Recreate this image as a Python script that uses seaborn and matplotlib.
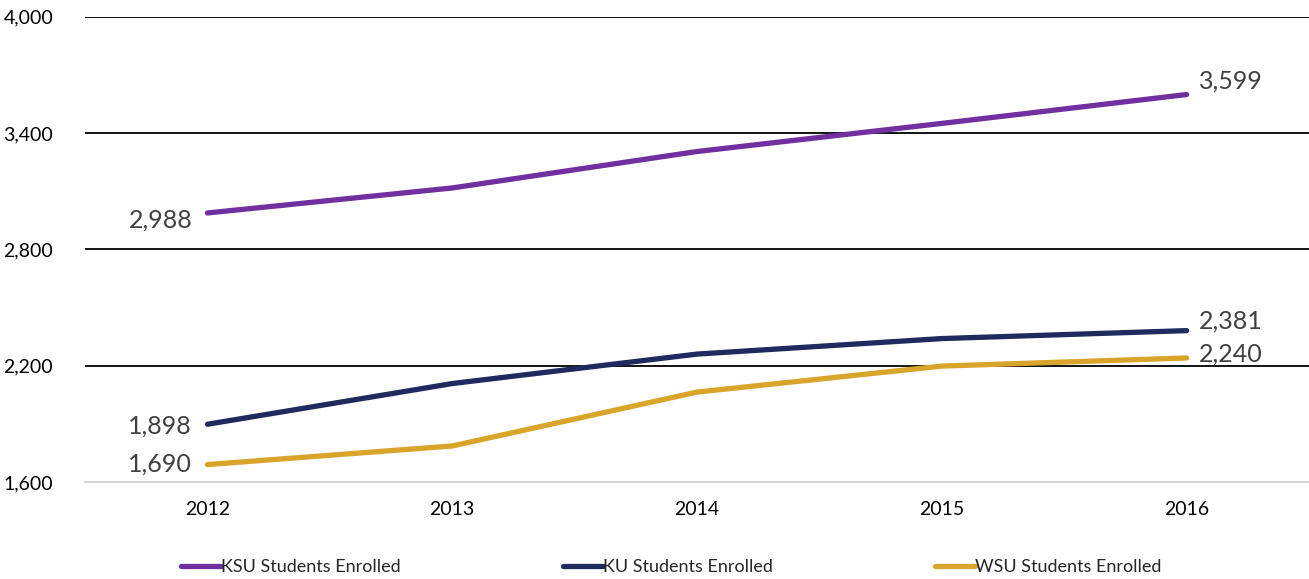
import matplotlib
matplotlib.use("Agg")
import matplotlib.pyplot as plt
import seaborn as sns
import pandas as pd
from matplotlib.ticker import FuncFormatter

years = ["2012", "2013", "2014", "2015", "2016"]
ksu = [2988, 3117, 3305, 3450, 3599]
ku = [1898, 2108, 2260, 2340, 2381]
wsu = [1690, 1786, 2064, 2198, 2240]
series_names = ["KSU Students Enrolled", "KU Students Enrolled", "WSU Students Enrolled"]
colors = ["#7030A0", "#1F2A5E", "#D9A42A"]

rows = []
for name, vals in zip(series_names, [ksu, ku, wsu]):
    for i, (y, v) in enumerate(zip(years, vals)):
        rows.append({"idx": i, "year": y, "value": v, "series": name})
df = pd.DataFrame(rows)

sns.set_theme(style="white")
plt.rcParams['font.family'] = ['Lato', 'DejaVu Sans']

fig = plt.figure(figsize=(13.09, 5.79), dpi=100)
ax = fig.add_axes([0.065, 0.1675, 0.935, 0.8035])

sns.lineplot(data=df, x="idx", y="value", hue="series", palette=colors,
             linewidth=3.8, ax=ax, legend=True, solid_capstyle="round")

ax.set_xlim(-0.5, 4.5)
ax.set_ylim(1600, 4000)
ax.set_yticks([1600, 2200, 2800, 3400, 4000])
ax.yaxis.set_major_formatter(FuncFormatter(lambda v, p: f"{int(v):,}"))
ax.set_xticks(range(len(years)))
ax.set_xticklabels(years)
ax.set_xlabel("")
ax.set_ylabel("")
ax.tick_params(axis="both", length=0, labelsize=14, colors="black")
ax.tick_params(axis="x", pad=14)
ax.tick_params(axis="y", pad=23)

for y in [2200, 2800, 3400, 4000]:
    ax.axhline(y, color="black", linewidth=1.3, zorder=0)
for s in ["top", "right", "left"]:
    ax.spines[s].set_visible(False)
ax.spines["bottom"].set_color("#D0D0D0")
ax.spines["bottom"].set_linewidth(1.3)

label_color = "#404040"
first_offsets = [(-11, -5), (-11, -1), (-11, 0)]
last_offsets = [(9, 10), (9, 7), (9, 3)]
for vals, fo, lo in zip([ksu, ku, wsu], first_offsets, last_offsets):
    ax.annotate(f"{vals[0]:,}", (0, vals[0]), xytext=fo, textcoords="offset points",
                ha="right", va="center", fontsize=18, color=label_color)
    ax.annotate(f"{vals[-1]:,}", (4, vals[-1]), xytext=lo, textcoords="offset points",
                ha="left", va="center", fontsize=18, color=label_color)

handles, labels = ax.get_legend_handles_labels()
ax.get_legend().remove()
fig.legend(handles, labels, loc="lower left", bbox_to_anchor=(0.126, -0.022), ncol=3,
           frameon=False, fontsize=13, handlelength=2.2, handletextpad=0.0,
           columnspacing=9.0)

fig.savefig("out.png", dpi=100)
